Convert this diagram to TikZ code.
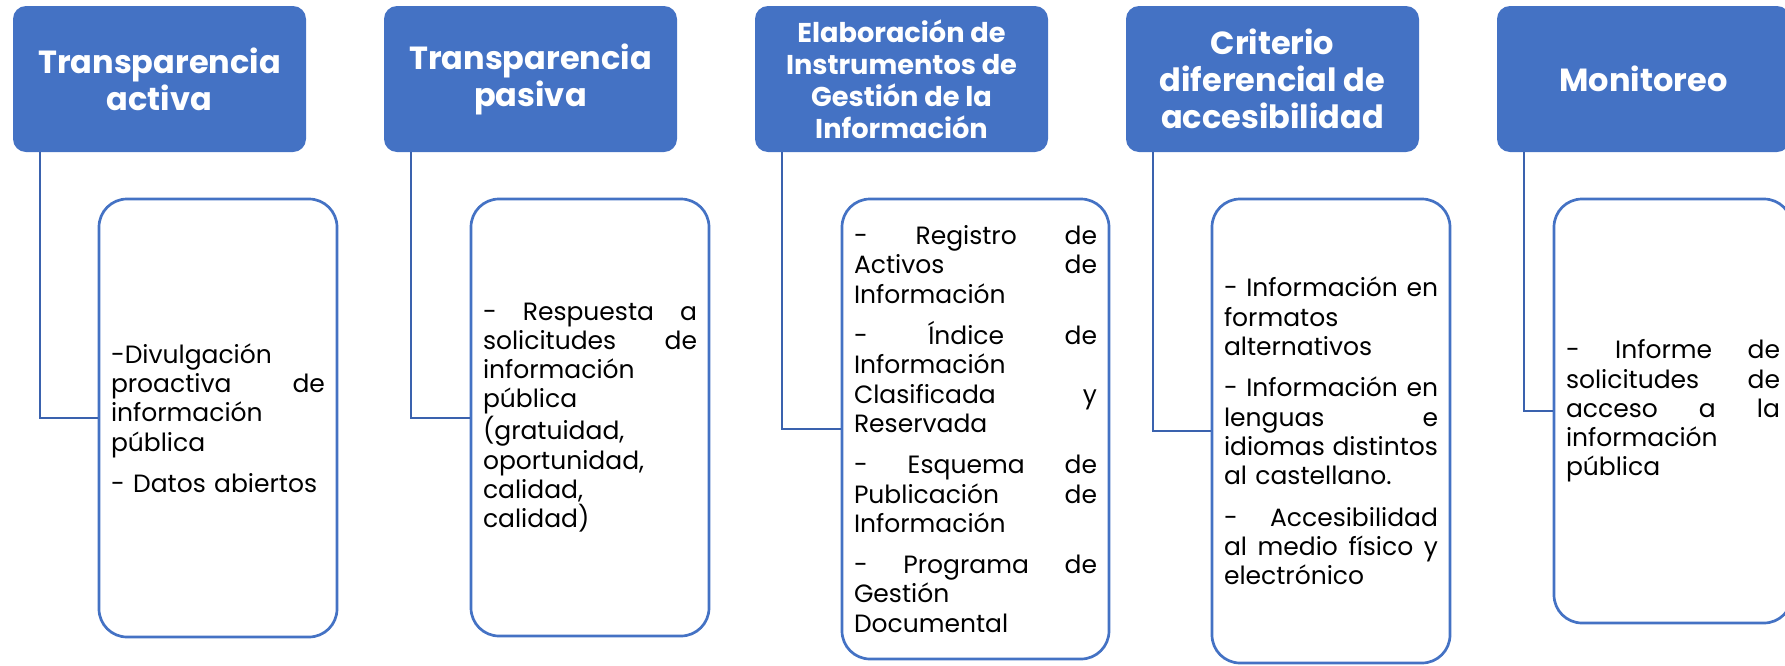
\documentclass[tikz,border=0pt]{standalone}
\usepackage{fontspec}
\setmainfont{Poppins}
\usepackage{tikz}
\definecolor{headblue}{HTML}{4472C4}
\definecolor{linkblue}{HTML}{3A62AE}
\tikzset{heading/.style={rectangle,rounded corners=6.5pt,fill=headblue,text=white,font=\bfseries\fontsize{16pt}{18.5pt}\selectfont,align=center,minimum width=146.5pt,minimum height=73pt,inner sep=0pt}}
\tikzset{detail/.style={rectangle,rounded corners=14pt,draw=headblue,line width=1.35pt,fill=white,font=\fontsize{12.5pt}{14.65pt}\selectfont,align=left,text width=107pt,inner xsep=6pt,inner ysep=0pt}}
\tikzset{link/.style={draw=linkblue,line width=1pt}}

\begin{document}
\begin{tikzpicture}[x=0.5pt,y=-0.5pt]
  \useasboundingbox (0,0) rectangle (1785,665);
  \node [heading] (ta) at (159.5,79) {Transparencia\\activa};
  \node [heading] (tp) at (530.5,79) {Transparencia\\pasiva};
  \node [heading,font=\bfseries\fontsize{13.6pt}{16pt}\selectfont] (ei) at (901.5,79) {Elaboración de\\Instrumentos de\\Gestión de la\\Información};
  \node [heading] (cd) at (1272.5,79) {Criterio\\diferencial de\\accesibilidad};
  \node [heading] (mo) at (1643.5,79) {Monitoreo};

  \node [detail,minimum height=219pt] (da) at (218,418) {-Divulgación\\
    proactiva\hfill de\\
    información\\
    pública\\[6pt]
    - Datos abiertos};
  \node [detail,minimum height=218.5pt] (dp) at (590,417.5) {-\hfill Respuesta\hfill a\\
    solicitudes\hfill de\\
    información\\
    pública\\
    (gratuidad,\\
    oportunidad,\\
    calidad,\\
    calidad)};
  \node [detail,text width=121.5pt,minimum height=230pt] (di) at (975.5,429) {-\hfill Registro\hfill de\\
    Activos\hfill de\\
    Información\\[6pt]
    -\hfill Índice\hfill de\\
    Información\\
    Clasificada\hfill y\\
    Reservada\\[6pt]
    -\hfill Esquema\hfill de\\
    Publicación\hfill de\\
    Información\\[6pt]
    -\hfill Programa\hfill de\\
    Gestión\\
    Documental};
  \node [detail,minimum height=232pt] (dc) at (1331,431) {-\hfill Información\hfill en\\
    formatos\\
    alternativos\\[6pt]
    -\hfill Información\hfill en\\
    lenguas\hfill e\\
    idiomas\hfill distintos\\
    al castellano.\\[6pt]
    -\hfill Accesibilidad\\
    al\hfill medio\hfill físico\hfill y\\
    electrónico};
  \node [detail,minimum height=212pt] (dm) at (1673,411) {-\hfill Informe\hfill de\\
    solicitudes\hfill de\\
    acceso\hfill a\hfill la\\
    información\\
    pública};

  \draw [link] ([xshift=13.75pt]ta.south west) |- (da.west);
  \draw [link] ([xshift=13.75pt]tp.south west) |- (dp.west);
  \draw [link] ([xshift=13.75pt]ei.south west) |- (di.west);
  \draw [link] ([xshift=13.75pt]cd.south west) |- (dc.west);
  \draw [link] ([xshift=13.75pt]mo.south west) |- (dm.west);
\end{tikzpicture}
\end{document}
